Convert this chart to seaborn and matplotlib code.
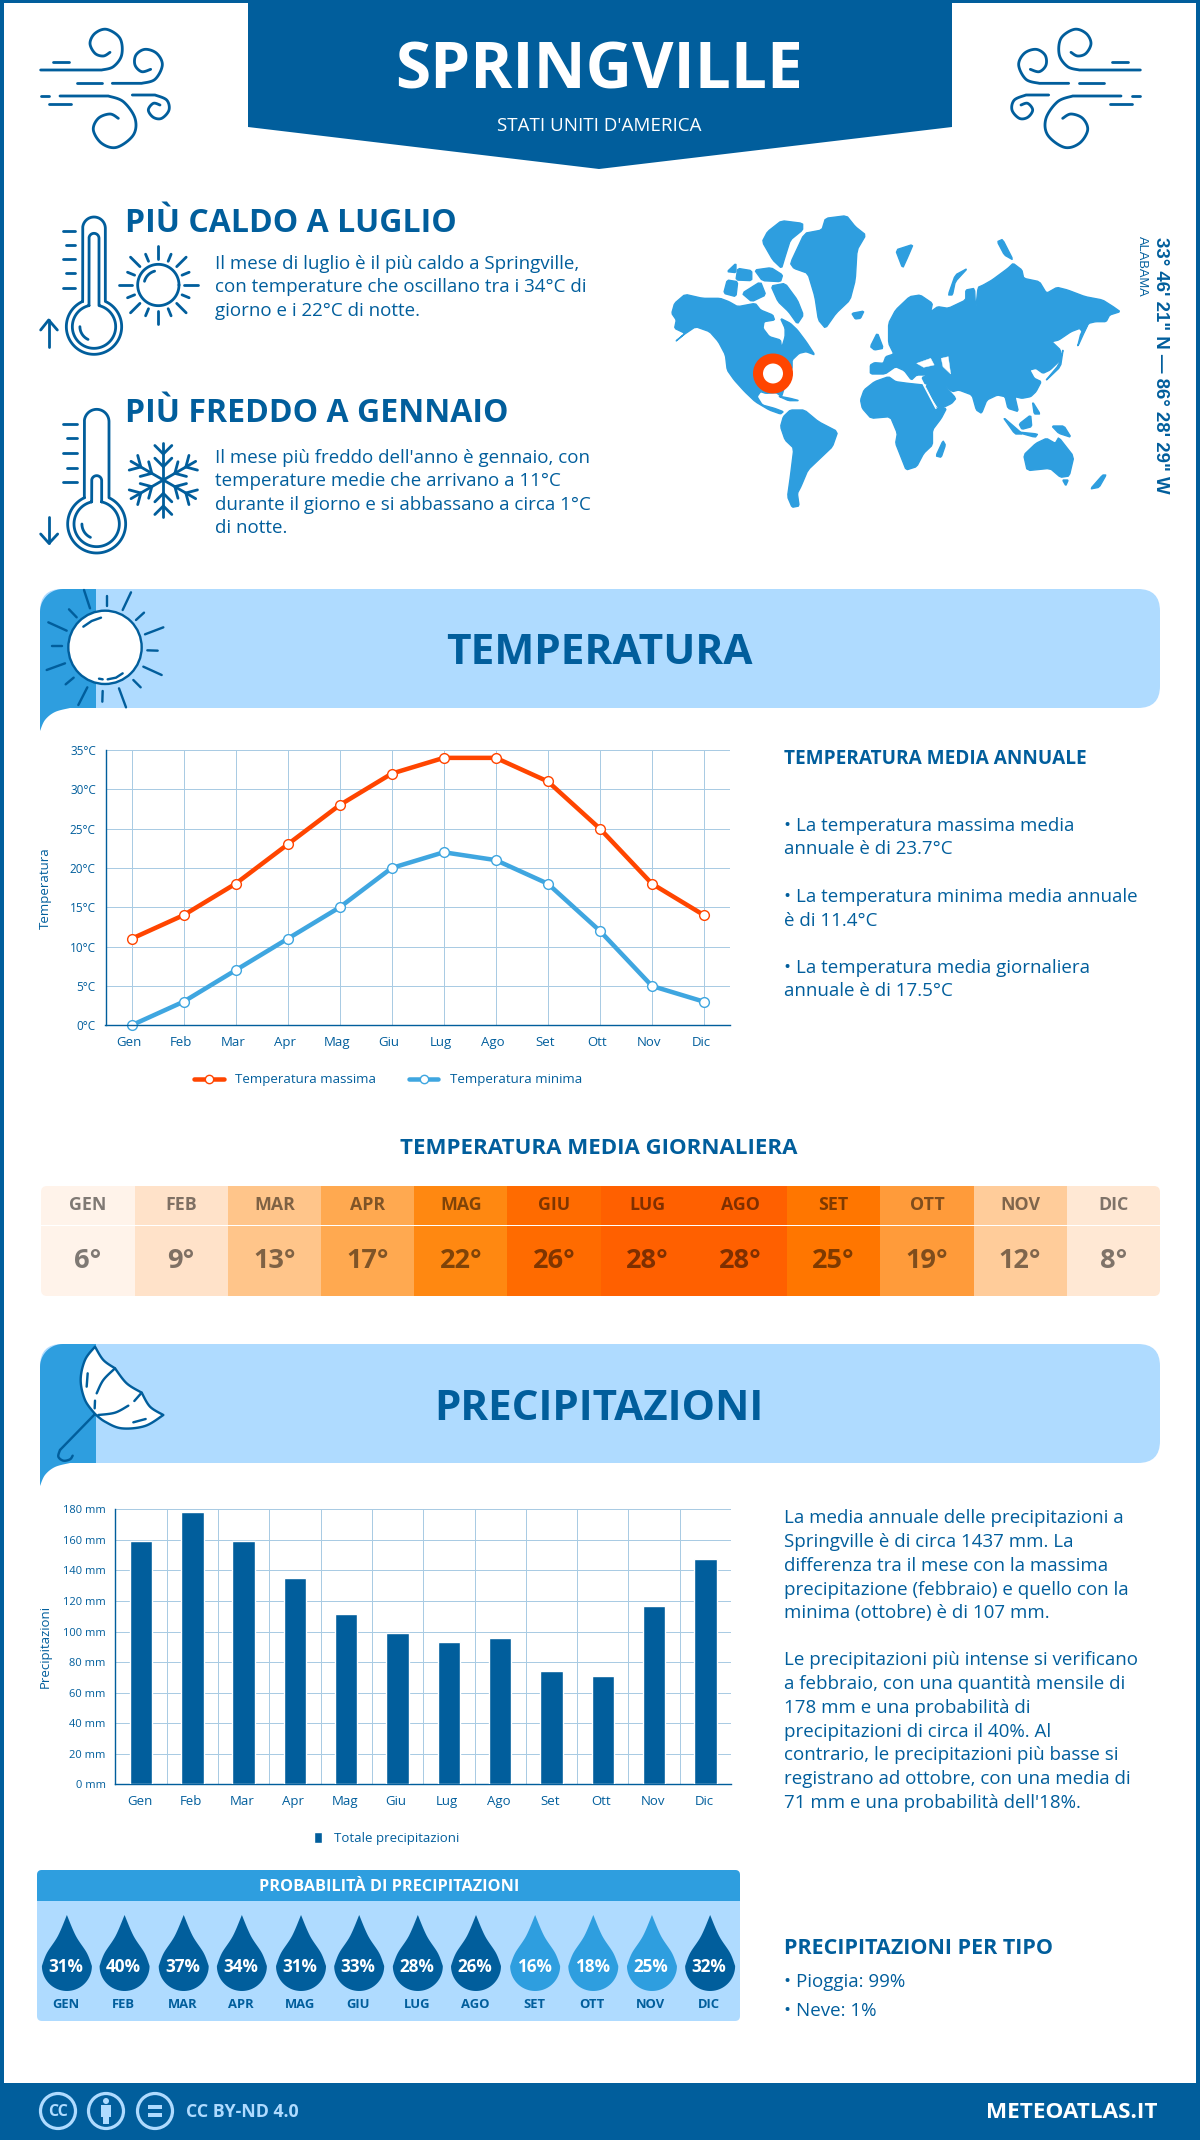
import numpy as np
import pandas as pd
import matplotlib
matplotlib.use("Agg")
import matplotlib.pyplot as plt
import seaborn as sns
from matplotlib.patches import Polygon, Circle, FancyBboxPatch, Rectangle
from matplotlib.colors import LinearSegmentedColormap
from matplotlib.transforms import ScaledTranslation

# ---------- data ----------
months = ["Gen", "Feb", "Mar", "Apr", "Mag", "Giu", "Lug", "Ago", "Set", "Ott", "Nov", "Dic"]
months_upper = ["GEN", "FEB", "MAR", "APR", "MAG", "GIU", "LUG", "AGO", "SET", "OTT", "NOV", "DIC"]
temp_max = [11, 14, 18, 23, 28, 32, 34, 34, 31, 25, 18, 14]
temp_min = [0, 3, 7, 11, 15, 20, 22, 21, 18, 12, 5, 3]
temp_avg = [6, 9, 13, 17, 22, 26, 28, 28, 25, 19, 12, 8]
precip = [159, 178, 159, 135, 111.5, 99, 93, 96, 74, 71, 117, 147.5]
precip_prob = [31, 40, 37, 34, 31, 33, 28, 26, 16, 18, 25, 32]
temp_ticks = [0, 5, 10, 15, 20, 25, 30, 35]
precip_ticks = [0, 20, 40, 60, 80, 100, 120, 140, 160, 180]

DARK = "#015E9C"
MID = "#2E9EDF"
LIGHT = "#AFDBFF"
ORANGE = "#FF4500"
GRID = "#A9CBE3"
W, H = 1200, 2140

sns.set_theme(style="white")
plt.rcParams["font.family"] = ["Open Sans", "DejaVu Sans"]
fig = plt.figure(figsize=(12, 21.4), dpi=100, facecolor="white")
ov = fig.add_axes([0, 0, 1, 1], zorder=0)
ov.set_xlim(0, W); ov.set_ylim(H, 0); ov.axis("off")


def pw(n):
    return n * 0.72


def T(x, y, s, size, weight="normal", color=DARK, ha="left", va="baseline", **kw):
    return ov.text(x, y, s, fontsize=size, fontweight=weight, color=color, ha=ha, va=va, **kw)


def smooth(pts, n=10):
    p = np.array(pts, float)
    p = np.vstack([p[0], p, p[-1]])
    out = []
    for i in range(1, len(p) - 2):
        a, b, c, d = p[i - 1], p[i], p[i + 1], p[i + 2]
        for t in np.linspace(0, 1, n, endpoint=False):
            out.append(0.5 * (2 * b + (c - a) * t + (2 * a - 5 * b + 4 * c - d) * t ** 2 + (3 * b - a - 3 * c + d) * t ** 3))
    out.append(p[-2])
    return np.array(out)


def L(pts, lw=2.8, color=DARK, z=3):
    p = np.array(pts, float)
    ov.plot(p[:, 0], p[:, 1], color=color, lw=pw(lw), solid_capstyle="round", solid_joinstyle="round", zorder=z)


def arc(cx, cy, r, a1, a2, n=50):
    t = np.radians(np.linspace(a1, a2, n))
    return np.c_[cx + r * np.cos(t), cy - r * np.sin(t)]


def zoomer(x0, y0, s=3.0):
    return lambda pts: [(x0 + a / s, y0 + b / s) for a, b in pts]


# ---------- frame and header ----------
ov.add_patch(Rectangle((0, 0), 4, H, color=DARK, lw=0))
ov.add_patch(Rectangle((W - 4, 0), 4, H, color=DARK, lw=0))
ov.add_patch(Rectangle((0, 0), W, 3, color=DARK, lw=0))
ov.add_patch(Polygon([(248, 0), (952, 0), (952, 127), (599, 169), (248, 127)], color=DARK, lw=0))
T(599, 88.8, "SPRINGVILLE", 46, "bold", "white", ha="center")
T(599, 131, "STATI UNITI D'AMERICA", 13.5, "normal", "white", ha="center")


def wind(flip):
    z = zoomer(30, 20)
    paths = [
        [(32, 150), (215, 150)] + [tuple(q) for q in smooth([(215, 150), (250, 140), (275, 105), (270, 55), (230, 28), (195, 40), (180, 70), (195, 100), (220, 108), (240, 97)])],
        [(247, 190), (335, 190)] + [tuple(q) for q in smooth([(335, 190), (375, 178), (397, 135), (380, 100), (345, 88), (318, 105), (315, 135), (335, 155), (362, 148)])],
        [(68, 125), (118, 125)], [(140, 190), (215, 190)], [(32, 228), (58, 228)],
        [(90, 228), (235, 228)] + [tuple(q) for q in smooth([(235, 228), (280, 245), (315, 295), (310, 345), (260, 382), (215, 370), (190, 330), (205, 295), (240, 282), (265, 295)])],
        [(56, 253), (123, 253)],
        [(307, 225), (375, 225)] + [tuple(q) for q in smooth([(375, 225), (410, 240), (417, 270), (395, 295), (370, 292), (355, 270), (370, 250), (390, 255)])],
    ]
    for pa in paths:
        q = np.array(z(pa))
        if flip:
            q[:, 0] = 1181 - q[:, 0]
        L(q)


wind(False); wind(True)

# ---------- thermometers ----------
def thermometer(x0, y0, cx, top, r_top, by, R, r_in, inner_top, inner_r, ticks, arrow):
    z = zoomer(x0, y0)
    dy = np.sqrt(R ** 2 - r_top ** 2)
    a = np.degrees(np.arctan2(dy, r_top))
    outer = np.vstack([[(cx - r_top, by - dy)], arc(cx, top, r_top, 180, 0), [(cx + r_top, by - dy)], arc(cx, by, R, a, a - 360 + 2 * (90 - a), 80)])
    L(z([tuple(q) for q in outer]))
    dy2 = np.sqrt(r_in ** 2 - inner_r ** 2)
    a2 = np.degrees(np.arctan2(dy2, inner_r))
    inner = np.vstack([[(cx - inner_r, by - dy2)], arc(cx, inner_top, inner_r, 180, 0), [(cx + inner_r, by - dy2)], arc(cx, by, r_in, a2, a2 - 360 + 2 * (90 - a2), 80)])
    L(z([tuple(q) for q in inner]))
    L(z([tuple(q) for q in arc(cx, by, r_in * 0.65, 180, 245)]))
    for t in ticks:
        L(z(t))
    for t in arrow:
        L(z(t))


thermometer(30, 205, 192, 70, 34, 365, 83, 65, 100, 15,
            [[(98, 77), (135, 77)], [(108, 121), (135, 121)], [(98, 163), (135, 163)], [(108, 205), (135, 205)], [(98, 248), (135, 248)]],
            [[(56, 425), (56, 345)], [(32, 375), (56, 345), (82, 375)]])
thermometer(30, 400, 200, 65, 37, 372, 87, 68, 242, 15,
            [[(100, 71), (140, 71)], [(110, 115), (140, 115)], [(100, 159), (140, 159)], [(110, 203), (140, 203)], [(100, 247), (140, 247)]],
            [[(57, 350), (57, 430)], [(32, 402), (57, 430), (83, 402)]])

# small sun
zs = zoomer(30, 205)
L(zs([tuple(q) for q in arc(385, 240, 62, 0, 360, 80)]))
L(zs([tuple(q) for q in arc(385, 240, 43, 105, 165)]))
for i in range(16):
    ang = np.radians(i * 22.5)
    r1, r2 = (78, 118) if i % 2 == 0 else (77, 100)
    L(zs([(385 + r1 * np.cos(ang), 240 - r1 * np.sin(ang)), (385 + r2 * np.cos(ang), 240 - r2 * np.sin(ang))]))

# snowflake
zf = zoomer(30, 400)
for i in range(6):
    ang = np.radians(90 + i * 60)
    u = np.array([np.cos(ang), -np.sin(ang)])
    c = np.array([400, 240.0])
    L(zf([tuple(c), tuple(c + 112 * u)]))
    for d, ln in ((78, 36), (40, 36)):
        base = c + d * u
        for sgn in (-1, 1):
            a2 = ang + sgn * np.radians(45)
            v = np.array([np.cos(a2), -np.sin(a2)])
            L(zf([tuple(base), tuple(base + ln * v)]))

T(125, 232, "PIÙ CALDO A LUGLIO", 23, "bold")
T(125, 422, "PIÙ FREDDO A GENNAIO", 23, "bold")
for y, s in zip((269, 292.5, 316), ("Il mese di luglio è il più caldo a Springville,",
                                    "con temperature che oscillano tra i 34°C di",
                                    "giorno e i 22°C di notte.")):
    T(215, y, s, 13.5)
for y, s in zip((463, 486.5, 510, 533), ("Il mese più freddo dell'anno è gennaio, con",
                                         "temperature medie che arrivano a 11°C",
                                         "durante il giorno e si abbassano a circa 1°C",
                                         "di notte.")):
    T(215, y, s, 13.5)

# ---------- world map ----------
land = [
    [(62,340),(70,310),(100,283),(150,295),(200,295),(225,305),(250,320),(300,310),(315,330),(350,345),(355,360),(325,365),(322,385),(340,410),(372,420),(375,445),(385,410),(385,385),(372,355),(400,370),(420,390),(445,425),(470,465),(445,455),(425,460),(405,480),(405,505),(385,555),(375,590),(360,578),(330,580),(315,575),(305,590),(320,615),(355,625),(380,635),(372,642),(340,630),(300,605),(270,575),(240,540),(220,510),(215,465),(195,425),(170,395),(130,380),(95,405),(72,425),(100,400),(70,385),(75,360)],
    [(400,190),(440,100),(490,90),(500,55),(560,47),(585,80),(615,105),(590,150),(585,240),(570,300),(530,340),(500,385),(480,360),(470,290),(450,220),(410,205)],
    [(335,95),(375,62),(435,70),(435,90),(400,120),(385,170),(375,205),(350,180),(320,125)],
    [(345,258),(385,250),(420,300),(437,345),(420,372),(395,335),(365,305)],
    [(210,280),(220,240),(250,245),(245,290)],
    [(298,210),(345,203),(378,225),(372,245),(320,242)],
    [(220,215),(245,190),(245,218)],
    [(262,280),(315,245),(330,285),(290,305)],
    [(250,205),(290,212),(290,242),(245,240)],
    [(365,588),(400,595),(425,602),(395,602)],
    [(372,680),(380,650),(400,630),(440,630),(480,665),(535,695),(520,740),(490,770),(450,810),(430,860),(420,880),(425,918),(405,922),(392,890),(400,830),(410,745),(385,720)],
    [(600,600),(610,570),(640,545),(680,530),(700,545),(735,550),(780,555),(800,600),(815,625),(845,625),(830,655),(805,690),(805,735),(780,760),(760,800),(730,810),(715,770),(700,730),(705,700),(685,650),(630,655),(605,625)],
    [(785,553),(835,552),(872,595),(860,610),(825,628),(808,600)],
    [(815,768),(835,722),(842,735),(830,772)],
    [(628,522),(628,495),(640,488),(665,490),(672,470),(695,462),(680,430),(680,370),(700,330),(740,290),(770,285),(805,310),(800,335),(820,320),(850,325),(900,300),(900,270),(925,265),(928,330),(935,262),(950,255),(975,240),(1020,205),(1035,190),(1060,210),(1065,235),(1110,245),(1130,280),(1160,262),(1190,270),(1240,290),(1290,300),(1320,320),(1340,335),(1310,345),(1300,365),(1270,365),(1250,370),(1235,400),(1225,385),(1200,395),(1165,420),(1145,425),(1170,450),(1170,480),(1140,510),(1120,520),(1100,505),(1082,510),(1095,535),(1115,545),(1100,575),(1085,590),(1060,595),(1040,590),(1050,635),(1020,625),(1012,590),(990,585),(960,600),(945,640),(930,630),(918,585),(880,570),(862,575),(835,553),(785,553),(775,532),(800,525),(760,525),(745,540),(725,512),(700,500),(670,522)],
    [(575,340),(610,333),(600,355),(585,357)],
    [(628,440),(648,398),(665,445),(640,450)],
    [(700,150),(750,133),(735,170),(720,205)],
    [(850,285),(870,225),(905,205),(870,245),(862,285)],
    [(990,125),(1005,118),(1035,180),(1010,165)],
    [(1125,545),(1170,500),(1178,445),(1165,495)],
    [(1218,442),(1250,368),(1228,400)],
    [(1005,650),(1062,702),(1040,702)],
    [(1052,672),(1085,645),(1088,680),(1060,688)],
    [(1040,695),(1105,702),(1098,712)],
    [(1145,678),(1180,678),(1200,712),(1165,700)],
    [(1090,605),(1112,642),(1095,642)],
    [(1065,765),(1100,730),(1130,715),(1155,730),(1165,712),(1208,770),(1195,828),(1170,832),(1140,805),(1075,812)],
    [(1255,867),(1290,825),(1300,825),(1280,862)],
    [(1176,840),(1192,840),(1185,857)],
]
water = [
    [(760,490),(800,475),(810,495),(780,502)],
    [(830,475),(850,470),(857,522),(835,500)],
]


def chaikin(pts):
    p = np.array(pts, float)
    q = np.roll(p, -1, axis=0)
    return np.column_stack([0.88 * p + 0.12 * q, 0.12 * p + 0.88 * q]).reshape(-1, 2)


def mp(pts):
    return [(650 + a / 2.85, 200 + b / 3) for a, b in pts]


for poly in land:
    ov.add_patch(Polygon(mp(chaikin(poly)), closed=True, facecolor=MID, edgecolor=MID, lw=1.0, joinstyle="round"))
for poly in water:
    ov.add_patch(Polygon(mp(poly), closed=True, facecolor="white", edgecolor="white", lw=0.3, zorder=2))
L(mp([(780, 555), (815, 625)]), lw=1.5, color="white")
ov.add_patch(Circle((773, 373.5), 15, facecolor="white", edgecolor=ORANGE, lw=pw(10), zorder=4))
T(1161, 365, "33° 46' 21\" N — 86° 28' 29\" W", 13.4, "bold", ha="center", va="center", rotation=270, family="Liberation Sans")
T(1142, 266, "ALABAMA", 9.3, "normal", ha="center", va="center", rotation=270, family="Liberation Sans")

# ---------- section bands ----------
def band(y0, y1, tail):
    ov.add_patch(FancyBboxPatch((40 + 22, y0 + 22), 1160 - 40 - 44, y1 - y0 - 44, boxstyle="round,pad=22,rounding_size=22", facecolor=LIGHT, edgecolor="none"))
    verts = [(96, y0), (63, y0)]
    left = np.array([(40 + 23 - 23 * np.sin(t), y0 + 23 - 23 * np.cos(t)) for t in np.linspace(0, np.pi / 2, 15)])
    curve = smooth([(40, tail), (45, y1 + 12), (55, y1 + 4), (70, y1)])
    pts = np.vstack([verts, left, curve, [(96, y1)]])
    ov.add_patch(Polygon(pts, closed=True, facecolor=MID, edgecolor="none"))
    ov.add_patch(Rectangle((70, y1), 60, 1, color="white", lw=0))


band(589, 708, 731)
band(1344, 1463, 1486)
T(599, 653, "TEMPERATURA", 30.5, "bold", ha="center", va="center")
T(599, 1409, "PRECIPITAZIONI", 30.3, "bold", ha="center", va="center")

# band sun
zb = zoomer(35, 585)
ov.add_patch(Circle(zb([(210, 187)])[0], 110 / 3, facecolor="white", edgecolor=DARK, lw=pw(2.4), zorder=3))
for seg in [[(147,15),(165,70)],[(215,33),(215,62)],[(288,22),(263,75)],[(327,83),(303,105)],[(385,127),(330,148)],[(337,196),(368,197)],[(325,245),(380,270)],[(295,285),(317,307)],[(252,310),(273,367)],[(203,318),(202,350)],[(157,307),(130,360)],[(116,278),(92,298)],[(90,235),(35,255)],[(82,184),(50,184)],[(95,137),(40,112)],[(125,97),(102,73)]]:
    L(zb(seg), lw=2.4)
L(zb([(145,125),(170,108),(198,98)]), lw=2.4, z=4)
L(zb([(218,283),(243,278),(263,265)]), lw=2.4, z=4)
L(zb([(192,281),(203,283)]), lw=2.4, z=4)

# umbrella
zu = zoomer(35, 1340)
top = smooth([(180,20),(205,60),(240,85)])[:-1].tolist() + smooth([(240,85),(275,130),(320,158)])[:-1].tolist() + smooth([(320,158),(345,200),(385,225)]).tolist()
rest = smooth([(385,225),(330,258),(260,265),(210,245),(180,222)])[1:].tolist() + smooth([(180,222),(150,180),(137,120),(150,60),(180,20)])[1:].tolist()
ov.add_patch(Polygon(zu(top + rest), closed=True, facecolor="white", edgecolor=DARK, lw=pw(2.4), joinstyle="round", zorder=3))
for seg in [[(240,85),(205,120),(185,160)],[(180,182),(179,205)],[(320,158),(298,183)],[(280,197),(240,218),(190,225)],[(158,100),(155,140)],[(295,247),(332,237)]]:
    L(zu([tuple(q) for q in smooth(seg)]), lw=2.4, z=4)
L(zu([(180,222),(75,330)]), lw=2.4, z=4)
L(zu([tuple(q) for q in smooth([(75,330),(70,350),(85,362),(105,358),(113,347)])]), lw=2.4, z=4)

# ---------- temperature line chart ----------
def axes_px(x0, y0, x1, y1, z=2):
    a = fig.add_axes([x0 / W, 1 - y1 / H, (x1 - x0) / W, (y1 - y0) / H], zorder=z)
    a.patch.set_alpha(0)
    return a


def style_axes(a):
    for s in ("top", "right"):
        a.spines[s].set_visible(False)
    for s in ("left", "bottom"):
        a.spines[s].set_color(DARK); a.spines[s].set_linewidth(pw(1.4))
    a.set_axisbelow(True)


ax1 = axes_px(105.5, 750, 730, 1025.3)
df_temp = pd.DataFrame({"Mese": months * 2, "T": temp_max + temp_min,
                        "Serie": ["Temperatura massima"] * 12 + ["Temperatura minima"] * 12})
sns.lineplot(data=df_temp, x="Mese", y="T", hue="Serie", palette=[ORANGE, "#3FA6E0"], lw=pw(4.5), marker="o", ms=7,
             markerfacecolor="white", markeredgewidth=pw(1.4), ax=ax1, sort=False, clip_on=False)
for ln, c in zip(ax1.lines[:2], (ORANGE, "#3FA6E0")):
    ln.set_markeredgecolor(c)
ax1.set_xlim(-0.5, 11.5); ax1.set_ylim(0, 35)
ax1.set_yticks(temp_ticks); ax1.set_yticklabels([f"{v}°C" for v in temp_ticks])
style_axes(ax1)
ax1.grid(True, color=GRID, lw=pw(1))
ax1.tick_params(axis="y", length=5, width=pw(1.4), color=DARK, labelsize=8.5, labelcolor=DARK, pad=2)
ax1.tick_params(axis="x", length=0, labelsize=9.5, labelcolor=DARK, pad=8)
ax1.set_xlabel("")
ax1.set_ylabel("Temperatura", fontsize=9.5, color=DARK)
ax1.yaxis.set_label_coords((52 - 105.5) / 624.5, 0.5)
for lb in ax1.get_xticklabels():
    lb.set_transform(lb.get_transform() + ScaledTranslation(-2.5 / 100, 0, fig.dpi_scale_trans))
leg = ax1.legend(loc="center", bbox_to_anchor=((388.5 - 105.5) / 624.5, -(1080 - 1025.3) / 275.3), ncol=2, frameon=False,
                 fontsize=9.5, labelcolor=DARK, handlelength=2.2, columnspacing=2.5, handletextpad=0.9)
for h in leg.get_lines():
    h.set_linewidth(pw(4.5)); h.set_markeredgecolor(h.get_color()); h.set_markerfacecolor("white"); h.set_markersize(6)

# ---------- text at the right ----------
T(784, 764, "TEMPERATURA MEDIA ANNUALE", 13.7, "bold")
for y, s in zip((831, 854.5, 902, 925.5, 973, 996.5),
                ("• La temperatura massima media", "annuale è di 23.7°C",
                 "• La temperatura minima media annuale", "è di 11.4°C",
                 "• La temperatura media giornaliera", "annuale è di 17.5°C")):
    T(784, y, s, 13.5)

# ---------- daily mean heatmap ----------
T(599, 1154, "TEMPERATURA MEDIA GIORNALIERA", 16, "bold", ha="center")
heat_cmap = LinearSegmentedColormap.from_list("heat", [
    (0.0, "#FFF3EA"), (3 / 22, "#FFE2C8"), (6.5 / 22, "#FFC891"), (11 / 22, "#FFA950"), (13 / 22, "#FF9B3A"),
    (16 / 22, "#FF8811"), (19 / 22, "#FF7700"), (20 / 22, "#FF6B00"), (1.0, "#FF6000")])
temp_row = np.array([temp_avg])
h1 = axes_px(41.3, 1186, 1160, 1225)
sns.heatmap(temp_row, cmap=heat_cmap, vmin=6, vmax=28, cbar=False, xticklabels=False, yticklabels=False, ax=h1,
            annot=np.array([months_upper]), fmt="", annot_kws={"fontsize": 12.8, "fontweight": "bold", "color": "black", "alpha": 0.5})
h2 = axes_px(41.3, 1226, 1160, 1296)
sns.heatmap(temp_row, cmap=heat_cmap, vmin=6, vmax=28, cbar=False, xticklabels=False, yticklabels=False, ax=h2,
            annot=np.array([[f"{v}°" for v in temp_avg]]), fmt="", annot_kws={"fontsize": 19.5, "fontweight": "bold", "color": "black", "alpha": 0.5})
clip_shape = FancyBboxPatch((46.3, 1191), 1108.7, 100, boxstyle="round,pad=5,rounding_size=6", transform=ov.transData)
for hm in (h1, h2):
    hm.collections[0].set_clip_path(clip_shape)

# ---------- precipitation bars ----------
ax2 = axes_px(115.4, 1509.3, 731, 1784.3)
df_rain = pd.DataFrame({"Mese": months, "mm": precip})
sns.barplot(data=df_rain, x="Mese", y="mm", color=DARK, width=0.435, saturation=1, ax=ax2, label="Totale precipitazioni", zorder=3)
ax2.set_xlim(-0.5, 11.5); ax2.set_ylim(0, 180)
ax2.set_yticks(precip_ticks); ax2.set_yticklabels([f"{v} mm" for v in precip_ticks])
ax2.set_xticks(np.arange(0.5, 11.5, 1), minor=True)
style_axes(ax2)
ax2.grid(True, axis="y", color=GRID, lw=pw(1))
ax2.grid(True, axis="x", which="minor", color=GRID, lw=pw(1))
ax2.grid(False, axis="x", which="major")
ax2.tick_params(axis="y", length=5, width=pw(1.4), color=DARK, labelsize=8, labelcolor=DARK, pad=2)
ax2.tick_params(axis="x", which="both", length=0, labelsize=9.5, labelcolor=DARK, pad=8)
ax2.set_xlabel("")
ax2.set_ylabel("Precipitazioni", fontsize=9.5, color=DARK)
ax2.yaxis.set_label_coords((52 - 115.4) / 615.6, 0.5)
for lb in ax2.get_xticklabels():
    lb.set_transform(lb.get_transform() + ScaledTranslation(-1.5 / 100, 0, fig.dpi_scale_trans))
ax2.legend(loc="center", bbox_to_anchor=((387 - 115.4) / 615.6, -(1838.7 - 1784.3) / 275), frameon=False, fontsize=9.5,
           labelcolor=DARK, handlelength=0.6, handleheight=0.9, handletextpad=0.9)

# precipitation text
para = ["La media annuale delle precipitazioni a", "Springville è di circa 1437 mm. La",
        "differenza tra il mese con la massima", "precipitazione (febbraio) e quello con la",
        "minima (ottobre) è di 107 mm."]
para2 = ["Le precipitazioni più intense si verificano", "a febbraio, con una quantità mensile di",
         "178 mm e una probabilità di", "precipitazioni di circa il 40%. Al",
         "contrario, le precipitazioni più basse si", "registrano ad ottobre, con una media di",
         "71 mm e una probabilità dell'18%."]
for i, s in enumerate(para):
    T(784.5, 1523.3 + 23.78 * i, s, 13.5)
for i, s in enumerate(para2):
    T(784.5, 1665 + 23.85 * i, s, 13.5)
T(784, 1954, "PRECIPITAZIONI PER TIPO", 15.5, "bold")
T(784, 1987, "• Pioggia: 99%", 13.5)
T(784, 2016, "• Neve: 1%", 13.5)

# ---------- probability panel ----------
ov.add_patch(FancyBboxPatch((42, 1875), 693, 141, boxstyle="round,pad=5,rounding_size=5", facecolor=LIGHT, edgecolor="none"))
ov.add_patch(FancyBboxPatch((42, 1875), 693, 21, boxstyle="round,pad=5,rounding_size=5", facecolor=MID, edgecolor="none"))
ov.add_patch(Rectangle((37, 1890), 703, 11, color=MID, lw=0))
T(389, 1887, "PROBABILITÀ DI PRECIPITAZIONI", 11.7, "bold", "white", ha="center", va="center")
drop_x = np.array([138, 257, 379, 499, 621, 741, 862, 982, 1104, 1224, 1345, 1465]) / 2.063
for cx, p, m in zip(drop_x, precip_prob, months_upper):
    right = smooth([(cx, 1915), (cx + 9, 1936), (cx + 20, 1953), (cx + 25, 1966)], 8)
    bottom = arc(cx, 1966, 25, 0, -180, 40)
    left = smooth([(cx - 25, 1966), (cx - 20, 1953), (cx - 9, 1936), (cx, 1915)], 8)
    ov.add_patch(Polygon(np.vstack([right, bottom, left]), closed=True, facecolor=DARK if p >= 26 else MID, edgecolor="none", zorder=3))
    T(cx - 1, 1966.5, f"{p}%", 12.3, "bold", "white", ha="center", va="center", zorder=4)
    T(cx - 1, 2004.5, m, 9.4, "bold", ha="center", va="center")

# ---------- footer ----------
ov.add_patch(Rectangle((0, 2082.5), W, H - 2082.5, color=DARK, lw=0, zorder=5))
for cx in (58, 106, 155):
    ov.add_patch(Circle((cx, 2111), 17.5, facecolor="none", edgecolor=LIGHT, lw=pw(3.2), zorder=6))
T(58, 2111.5, "CC", 11.5, "bold", LIGHT, ha="center", va="center", zorder=6)
ov.add_patch(Circle((106, 2101), 3, facecolor=LIGHT, edgecolor="none", zorder=6))
ov.add_patch(Rectangle((101, 2105), 10, 12, facecolor=LIGHT, edgecolor="none", zorder=6))
ov.add_patch(Rectangle((103, 2116), 6, 8, facecolor=LIGHT, edgecolor="none", zorder=6))
ov.add_patch(Rectangle((148, 2105), 14, 4, facecolor=LIGHT, edgecolor="none", zorder=6))
ov.add_patch(Rectangle((148, 2113), 14, 4, facecolor=LIGHT, edgecolor="none", zorder=6))
T(186, 2112, "CC BY-ND 4.0", 12.8, "bold", LIGHT, va="center", zorder=6)
T(1158, 2112, "METEOATLAS.IT", 16.2, "bold", "white", ha="right", va="center", zorder=6)

fig.savefig("out.png", dpi=100)
